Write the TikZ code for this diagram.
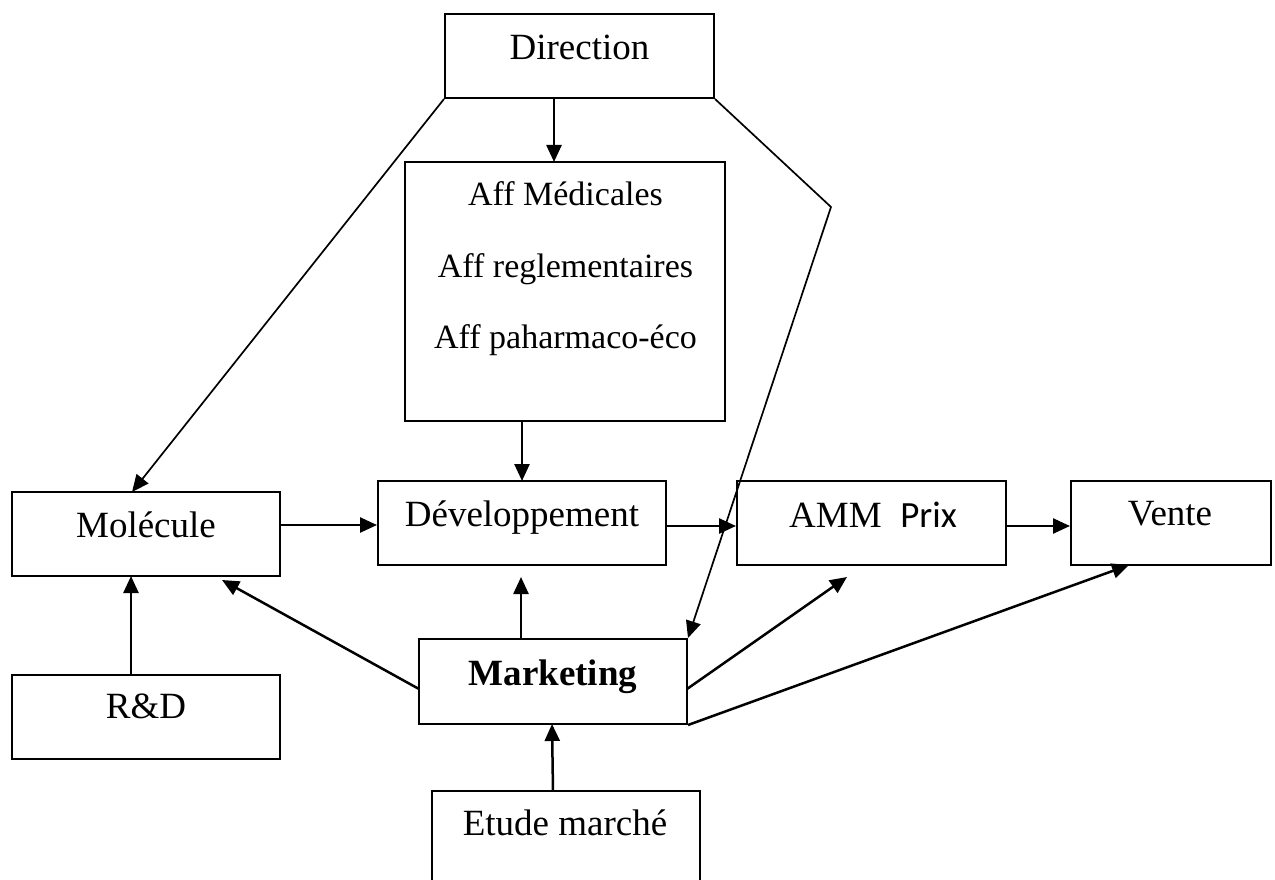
\documentclass[tikz,border=0pt]{standalone}
\usepackage{fontspec}
\setmainfont{Liberation Serif}
\newfontfamily\carlitofont{Carlito}
\usetikzlibrary{arrows.meta}
\begin{document}
\begin{tikzpicture}[x=1pt,y=-1pt,
  box/.style={draw, line width=2pt, inner sep=0pt},
  lbl/.style={anchor=base, inner sep=0pt, font=\fontsize{37}{44}\selectfont},
  afflbl/.style={anchor=base, inner sep=0pt, font=\fontsize{34}{40}\selectfont},
  arr/.style={line width=2.5pt, -{Triangle[length=17pt,width=15pt]}},
  thinarr/.style={line width=1.7pt, -{Triangle[length=17pt,width=15pt]}}]
\useasboundingbox (0,0) rectangle (1275,880);
% boxes
\node[box, minimum width=269pt, minimum height=84pt] (dir) at (579.5,56) {};
\node[box, minimum width=320pt, minimum height=259pt] (aff) at (565,291.5) {};
\node[box, minimum width=268pt, minimum height=84pt] (mol) at (146,534) {};
\node[box, minimum width=288pt, minimum height=84pt] (dev) at (522,523) {};
\node[box, minimum width=269pt, minimum height=84pt] (amm) at (871.5,523) {};
\node[box, minimum width=200pt, minimum height=84pt] (vente) at (1171,523) {};
\node[box, minimum width=268pt, minimum height=84pt] (rd) at (146,717) {};
\node[box, minimum width=268pt, minimum height=85pt] (mkt) at (553,681.5) {};
\node[box, minimum width=268pt, minimum height=112pt] (etude) at (566,847) {};
% labels
\node[lbl] (dirlbl) at (579.5,60) {Direction};
\node[afflbl] (aff1) at (565.5,205) {Aff Médicales};
\node[afflbl] (aff2) at (565.5,277) {Aff reglementaires};
\node[afflbl] (aff3) at (565.5,348) {Aff paharmaco-éco};
\node[lbl] (mollbl) at (146,537) {Molécule};
\node[lbl] (devlbl) at (522,526) {Développement};
\node[lbl] (ammlbl) at (873,527) {AMM\ \ {\carlitofont Prix}};
\node[lbl] (ventelbl) at (1170,525) {Vente};
\node[lbl] (rdlbl) at (146,718) {R\&D};
\node[lbl] (mktlbl) at (553,685) {\bfseries Marketing};
\node[lbl] (etudelbl) at (565,835) {Etude marché};
% free ends
\coordinate (bend) at (831,207);
\coordinate (molin) at (132,492);
\coordinate (affin) at (554,162);
\coordinate (dirout) at (554,98);
\coordinate (molback) at (222,580);
\coordinate (mktl) at (419,689);
\coordinate (mktr) at (687,689);
\coordinate (ammtip) at (847,577);
\coordinate (ventetip) at (1129,565);
\coordinate (devtip) at (521,577);
\coordinate (mktup) at (521,639);
\coordinate (molout) at (131,576);
\coordinate (rdup) at (131,675);
\coordinate (etudeup) at (553,791);
\coordinate (mktin) at (552,724);
\coordinate (affout) at (522,421);
\coordinate (devin) at (522,481);
% connectors
\draw[arr] (dirout) -- (affin);
\draw[thinarr] (dir.south west) -- (molin);
\draw[thinarr] (dir.south east) -- (bend) -- (mkt.north east);
\draw[arr] (affout) -- (devin);
\draw[arr] (mol.east |- 0,525) -- (dev.west |- 0,525);
\draw[arr] (dev.east |- 0,526) -- (amm.west |- 0,526);
\draw[arr] (amm.east |- 0,526) -- (vente.west |- 0,526);
\draw[arr] (rdup) -- (molout);
\draw[arr] (mktup) -- (devtip);
\draw[arr] (mktl) -- (molback);
\draw[arr] (mktr) -- (ammtip);
\draw[arr] (mkt.south east) -- (ventetip);
\draw[arr] (etudeup) -- (mktin);
\end{tikzpicture}
\end{document}
